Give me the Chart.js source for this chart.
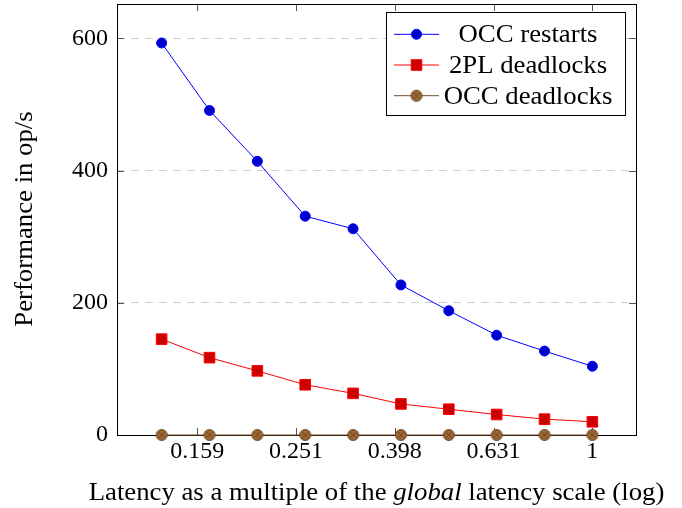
<!DOCTYPE html>
<html>
<head>
<meta charset="utf-8">
<script src="https://cdn.jsdelivr.net/npm/chart.js@4.4.1/dist/chart.umd.min.js"></script>
<style>
  html, body { margin: 0; padding: 0; background: #fff; }
</style>
</head>
<body>
<canvas id="myChart" width="682" height="508"></canvas>
<script>
// latency multiple (log x axis): steps of 0.8
var latency = [0.134217728, 0.16777216, 0.2097152, 0.262144, 0.32768, 0.4096, 0.512, 0.64, 0.8, 1];
var occRestarts = [593, 491, 414, 331, 312, 227, 188, 151, 127, 104];
var twoPlDeadlocks = [145, 117, 97, 76, 63, 47, 39, 31, 24, 20];
var occDeadlocks = [0, 0, 0, 0, 0, 0, 0, 0, 0, 0];

var xTicks = [0.158489, 0.251189, 0.398107, 0.630957, 1];
var xTickLabels = ['0.159', '0.251', '0.398', '0.631', '1'];
var yTicks = [0, 200, 400, 600];

var FONT = "'Liberation Serif', 'DejaVu Serif', serif";
Chart.defaults.font.family = FONT;
Chart.defaults.font.size = 24;
Chart.defaults.color = '#000';

function points(ys) {
    return latency.map(function (x, i) { return { x: x, y: ys[i] }; });
}

// circle with a cross (pgfplots otimes*)
function otimesMark(r, fill, stroke) {
    var c = document.createElement('canvas');
    var s = Math.ceil(r * 2 + 3);
    c.width = s; c.height = s;
    var g = c.getContext('2d');
    var m = s / 2;
    g.beginPath();
    g.arc(m, m, r, 0, 2 * Math.PI);
    g.fillStyle = fill;
    g.fill();
    g.lineWidth = 1;
    g.strokeStyle = stroke;
    g.stroke();
    var d = r * 0.7071;
    g.beginPath();
    g.moveTo(m - d, m - d); g.lineTo(m + d, m + d);
    g.moveTo(m + d, m - d); g.lineTo(m - d, m + d);
    g.stroke();
    return c;
}

var brownLine = 'rgb(115,77,38)';
var brownFill = 'rgb(153,102,51)';

var datasets = [{
    label: 'OCC restarts',
    data: points(occRestarts),
    borderColor: '#0000ff',
    backgroundColor: '#0000cc',
    pointBorderColor: '#0000ff',
    pointBackgroundColor: '#0000cc',
    pointStyle: 'circle',
    pointRadius: 5,
    borderWidth: 1,
    pointBorderWidth: 1
}, {
    label: '2PL deadlocks',
    data: points(twoPlDeadlocks),
    borderColor: '#ff0000',
    backgroundColor: '#cc0000',
    pointBorderColor: '#ff0000',
    pointBackgroundColor: '#cc0000',
    pointStyle: 'rect',
    pointRadius: 7.5,
    borderWidth: 1,
    pointBorderWidth: 1
}, {
    label: 'OCC deadlocks',
    data: points(occDeadlocks),
    borderColor: brownLine,
    backgroundColor: brownFill,
    pointBorderColor: brownLine,
    pointBackgroundColor: brownFill,
    pointStyle: otimesMark(5.5, brownFill, brownLine),
    pointRadius: 6,
    borderWidth: 1.2,
    pointBorderWidth: 1
}];

// serif text a bit wider, closer to the TeX font
function wideText(ctx, text, x, y, font, align) {
    ctx.save();
    ctx.font = font;
    var sx = 1.07;
    var w = ctx.measureText(text).width * sx;
    var left = align === 'center' ? x - w / 2 : x;
    ctx.translate(left, y);
    ctx.scale(sx, 1);
    ctx.textAlign = 'left';
    ctx.fillText(text, 0, 0);
    ctx.restore();
    return w;
}

var frameAndTicks = {
    id: 'frameAndTicks',
    beforeDatasetsDraw: function (chart) {
        var ctx = chart.ctx, a = chart.chartArea;
        var xs = chart.scales.x, ys = chart.scales.y;
        ctx.save();
        ctx.strokeStyle = '#555';
        ctx.lineWidth = 1;
        ctx.beginPath();
        yTicks.forEach(function (v) {
            var p = Math.round(ys.getPixelForValue(v)) + 0.5;
            ctx.moveTo(a.left, p); ctx.lineTo(a.left + 7, p);
            ctx.moveTo(a.right, p); ctx.lineTo(a.right - 7, p);
        });
        xTicks.forEach(function (v) {
            var p = Math.round(xs.getPixelForValue(v)) + 0.5;
            ctx.moveTo(p, a.bottom); ctx.lineTo(p, a.bottom - 7);
            ctx.moveTo(p, a.top); ctx.lineTo(p, a.top + 7);
        });
        ctx.stroke();
        ctx.strokeStyle = '#000';
        ctx.strokeRect(Math.round(a.left) + 0.5, Math.round(a.top) + 0.5,
            Math.round(a.right - a.left), Math.round(a.bottom - a.top));
        ctx.restore();
    },
    afterDatasetsDraw: function (chart) {
        // legend box in the upper right corner
        var ctx = chart.ctx;
        var bx = 386, by = 12, bw = 239, bh = 103;
        ctx.save();
        ctx.fillStyle = '#fff';
        ctx.fillRect(bx, by, bw, bh);
        ctx.strokeStyle = '#000';
        ctx.lineWidth = 1;
        ctx.strokeRect(bx + 0.5, by + 0.5, bw, bh);
        chart.data.datasets.forEach(function (ds, i) {
            var y = 34.3 + i * 30.7;
            ctx.strokeStyle = ds.borderColor;
            ctx.lineWidth = 1;
            ctx.beginPath();
            ctx.moveTo(394, y); ctx.lineTo(439, y);
            ctx.stroke();
            ctx.fillStyle = ds.pointBackgroundColor;
            ctx.strokeStyle = ds.pointBorderColor;
            Chart.helpers.drawPoint(ctx, {
                pointStyle: ds.pointStyle, radius: ds.pointRadius,
                borderWidth: ds.pointBorderWidth, rotation: 0
            }, 416.5, y);
            ctx.fillStyle = '#000';
            ctx.textBaseline = 'alphabetic';
            wideText(ctx, ds.label, 528, y + 8, '25px ' + FONT, 'center');
        });
        ctx.restore();
    },
    afterDraw: function (chart) {
        var ctx = chart.ctx, a = chart.chartArea;
        ctx.save();
        ctx.fillStyle = '#000';
        ctx.textBaseline = 'alphabetic';
        // x title, "global" in italics
        var parts = [['Latency as a multiple of the ', ''], ['global', 'italic '], [' latency scale (log)', '']];
        var total = 0;
        parts.forEach(function (p) { ctx.font = p[1] + '25px ' + FONT; total += ctx.measureText(p[0]).width * 1.07; });
        var x = (a.left + a.right) / 2 - total / 2;
        parts.forEach(function (p) {
            x += wideText(ctx, p[0], x, 500, p[1] + '25px ' + FONT, 'left');
        });
        // y title
        ctx.translate(32, 219);
        ctx.rotate(-Math.PI / 2);
        wideText(ctx, 'Performance in op/s', 0, 0, '25px ' + FONT, 'center');
        ctx.restore();
    }
};

function noPad(scale) {
    scale.paddingTop = 0; scale.paddingBottom = 0;
    scale.paddingLeft = 0; scale.paddingRight = 0;
}

var ctxChart = document.getElementById('myChart').getContext('2d');
var chart = new Chart(ctxChart, {
    type: 'line',
    data: { datasets: datasets },
    plugins: [frameAndTicks],
    options: {
        responsive: false,
        animation: false,
        devicePixelRatio: 1,
        layout: { autoPadding: false, padding: { left: 0, top: 4, right: 46, bottom: 0 } },
        elements: { line: { tension: 0 } },
        datasets: { line: { clip: false } },
        plugins: {
            legend: { display: false },
            tooltip: { enabled: false }
        },
        scales: {
            x: {
                type: 'logarithmic',
                min: 0.109,
                max: 1.2256,
                grid: { display: false },
                border: { display: false },
                afterBuildTicks: function (scale) {
                    scale.ticks = xTicks.map(function (v) { return { value: v }; });
                },
                afterFit: function (scale) { scale.height = 73; noPad(scale); },
                ticks: {
                    autoSkip: false,
                    maxRotation: 0,
                    padding: -6,
                    callback: function (value, index) { return xTickLabels[index]; }
                }
            },
            y: {
                type: 'linear',
                min: 0,
                max: 652,
                grid: {
                    drawTicks: false,
                    color: function (c) { return c.tick && c.tick.value === 0 ? 'rgba(0,0,0,0)' : '#cfcfcf'; },
                    lineWidth: 1
                },
                border: { display: false, dash: [8, 6] },
                afterBuildTicks: function (scale) {
                    scale.ticks = yTicks.map(function (v) { return { value: v }; });
                },
                afterFit: function (scale) { scale.width = 117; noPad(scale); },
                ticks: { padding: 9 }
            }
        }
    }
});
</script>
</body>
</html>
